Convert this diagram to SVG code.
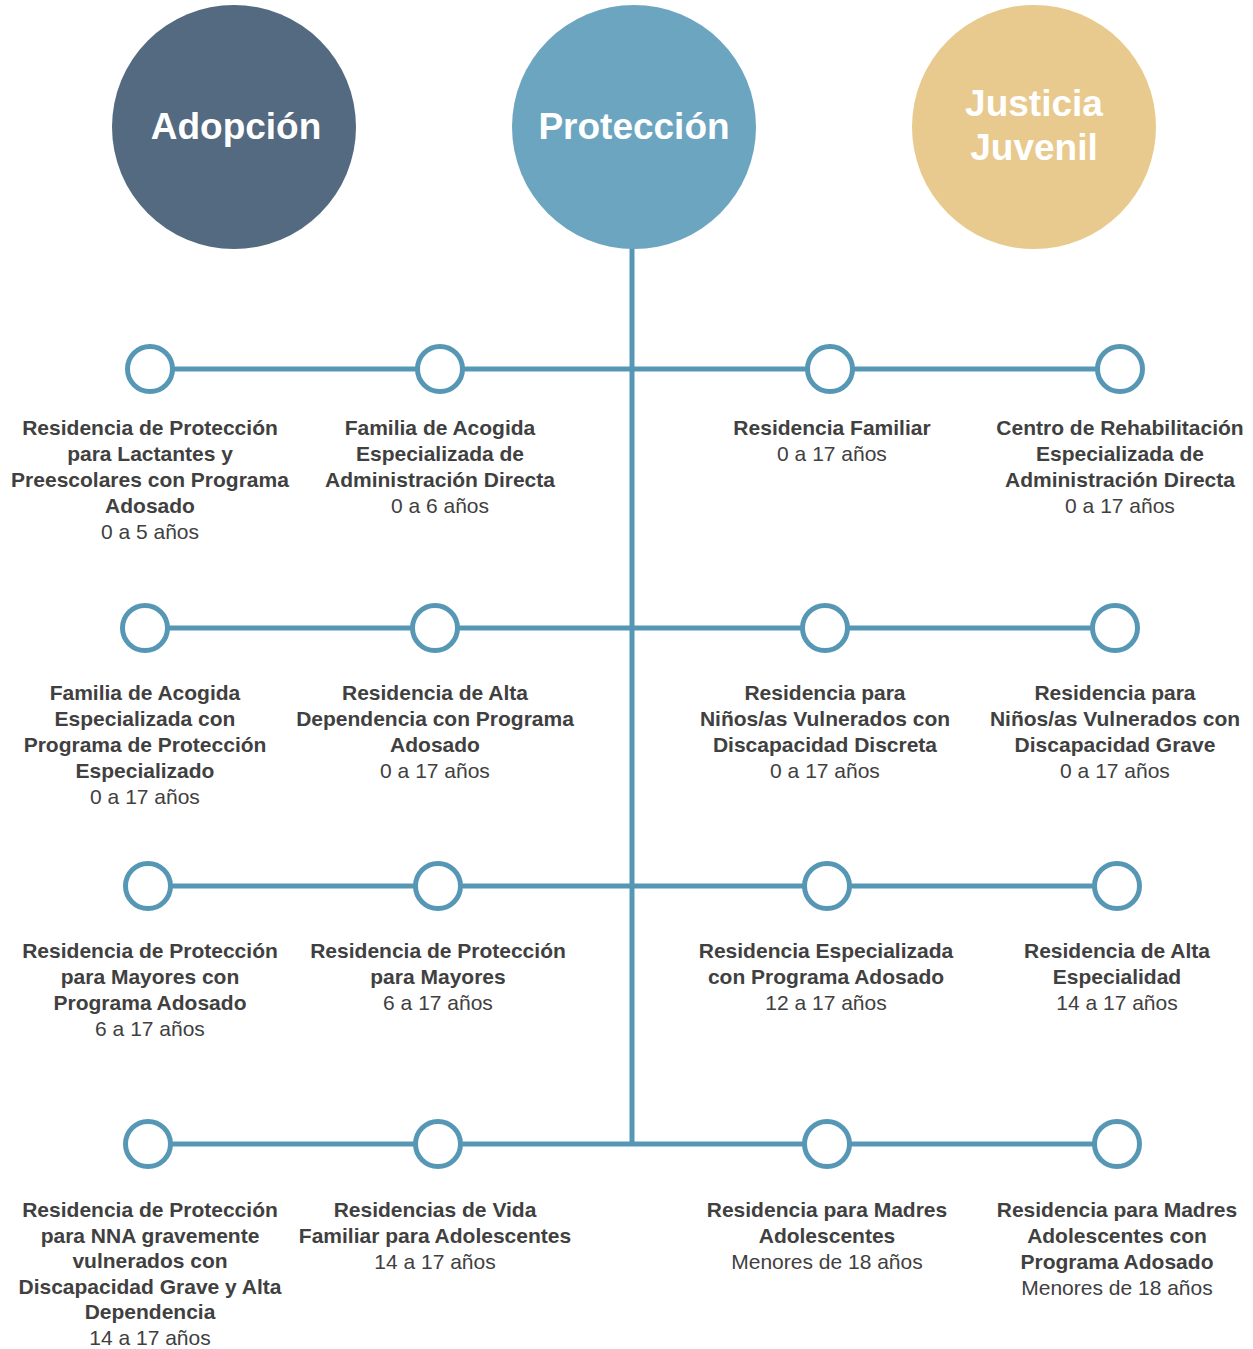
<svg xmlns="http://www.w3.org/2000/svg" width="1253" height="1349" viewBox="0 0 1253 1349">
<style>
.bg{fill:#ffffff}
.line{stroke:#5597b5;stroke-width:5;fill:none}
.node{fill:#ffffff;stroke:#5597b5;stroke-width:5}
.t{font-family:"Liberation Sans",Arial,sans-serif;font-size:21px;fill:#404040;text-anchor:middle}
.b{font-weight:bold}
.h{font-family:"Liberation Sans",Arial,sans-serif;font-size:37px;font-weight:bold;fill:#ffffff;text-anchor:middle}
</style>
<rect class="bg" x="0" y="0" width="1253" height="1349"/>
<g id="connectors">
<line class="line" x1="632" y1="240" x2="632" y2="1144"/>
<line class="line" x1="150" y1="369" x2="1120" y2="369"/>
<line class="line" x1="145" y1="628" x2="1115" y2="628"/>
<line class="line" x1="148" y1="886" x2="1117" y2="886"/>
<line class="line" x1="148" y1="1144" x2="1117" y2="1144"/>
</g>
<g id="adopcion">
<circle cx="234" cy="127" r="122" fill="#546a80"/>
<text class="h" x="236" y="139">Adopción</text>
</g>
<g id="proteccion">
<circle cx="634" cy="127" r="122" fill="#6ca5c0"/>
<text class="h" x="634" y="139">Protección</text>
</g>
<g id="justicia">
<circle cx="1034" cy="127" r="122" fill="#e8ca8e"/>
<text class="h" x="1034" y="116">Justicia</text>
<text class="h" x="1034" y="160">Juvenil</text>
</g>

<g id="n1">
<circle class="node" cx="150" cy="369" r="22.5"/>
<text class="t" x="150" y="435"><tspan class="b" x="150">Residencia de Protección</tspan><tspan class="b" x="150" dy="26">para Lactantes y</tspan><tspan class="b" x="150" dy="26">Preescolares con Programa</tspan><tspan class="b" x="150" dy="26">Adosado</tspan><tspan x="150" dy="26">0 a 5 años</tspan></text>
</g>
<g id="n2">
<circle class="node" cx="440" cy="369" r="22.5"/>
<text class="t" x="440" y="435"><tspan class="b" x="440">Familia de Acogida</tspan><tspan class="b" x="440" dy="26">Especializada de</tspan><tspan class="b" x="440" dy="26">Administración Directa</tspan><tspan x="440" dy="26">0 a 6 años</tspan></text>
</g>
<g id="n3">
<circle class="node" cx="830" cy="369" r="22.5"/>
<text class="t" x="832" y="435"><tspan class="b" x="832">Residencia Familiar</tspan><tspan x="832" dy="26">0 a 17 años</tspan></text>
</g>
<g id="n4">
<circle class="node" cx="1120" cy="369" r="22.5"/>
<text class="t" x="1120" y="435"><tspan class="b" x="1120">Centro de Rehabilitación</tspan><tspan class="b" x="1120" dy="26">Especializada de</tspan><tspan class="b" x="1120" dy="26">Administración Directa</tspan><tspan x="1120" dy="26">0 a 17 años</tspan></text>
</g>

<g id="n5">
<circle class="node" cx="145" cy="628" r="22.5"/>
<text class="t" x="145" y="700"><tspan class="b" x="145">Familia de Acogida</tspan><tspan class="b" x="145" dy="26">Especializada con</tspan><tspan class="b" x="145" dy="26">Programa de Protección</tspan><tspan class="b" x="145" dy="26">Especializado</tspan><tspan x="145" dy="26">0 a 17 años</tspan></text>
</g>
<g id="n6">
<circle class="node" cx="435" cy="628" r="22.5"/>
<text class="t" x="435" y="700"><tspan class="b" x="435">Residencia de Alta</tspan><tspan class="b" x="435" dy="26">Dependencia con Programa</tspan><tspan class="b" x="435" dy="26">Adosado</tspan><tspan x="435" dy="26">0 a 17 años</tspan></text>
</g>
<g id="n7">
<circle class="node" cx="825" cy="628" r="22.5"/>
<text class="t" x="825" y="700"><tspan class="b" x="825">Residencia para</tspan><tspan class="b" x="825" dy="26">Niños/as Vulnerados con</tspan><tspan class="b" x="825" dy="26">Discapacidad Discreta</tspan><tspan x="825" dy="26">0 a 17 años</tspan></text>
</g>
<g id="n8">
<circle class="node" cx="1115" cy="628" r="22.5"/>
<text class="t" x="1115" y="700"><tspan class="b" x="1115">Residencia para</tspan><tspan class="b" x="1115" dy="26">Niños/as Vulnerados con</tspan><tspan class="b" x="1115" dy="26">Discapacidad Grave</tspan><tspan x="1115" dy="26">0 a 17 años</tspan></text>
</g>

<g id="n9">
<circle class="node" cx="148" cy="886" r="22.5"/>
<text class="t" x="150" y="958"><tspan class="b" x="150">Residencia de Protección</tspan><tspan class="b" x="150" dy="26">para Mayores con</tspan><tspan class="b" x="150" dy="26">Programa Adosado</tspan><tspan x="150" dy="26">6 a 17 años</tspan></text>
</g>
<g id="n10">
<circle class="node" cx="438" cy="886" r="22.5"/>
<text class="t" x="438" y="958"><tspan class="b" x="438">Residencia de Protección</tspan><tspan class="b" x="438" dy="26">para Mayores</tspan><tspan x="438" dy="26">6 a 17 años</tspan></text>
</g>
<g id="n11">
<circle class="node" cx="827" cy="886" r="22.5"/>
<text class="t" x="826" y="958"><tspan class="b" x="826">Residencia Especializada</tspan><tspan class="b" x="826" dy="26">con Programa Adosado</tspan><tspan x="826" dy="26">12 a 17 años</tspan></text>
</g>
<g id="n12">
<circle class="node" cx="1117" cy="886" r="22.5"/>
<text class="t" x="1117" y="958"><tspan class="b" x="1117">Residencia de Alta</tspan><tspan class="b" x="1117" dy="26">Especialidad</tspan><tspan x="1117" dy="26">14 a 17 años</tspan></text>
</g>

<g id="n13">
<circle class="node" cx="148" cy="1144" r="22.5"/>
<text class="t" x="150" y="1217"><tspan class="b" x="150">Residencia de Protección</tspan><tspan class="b" x="150" dy="25.5">para NNA gravemente</tspan><tspan class="b" x="150" dy="25.5">vulnerados con</tspan><tspan class="b" x="150" dy="25.5">Discapacidad Grave y Alta</tspan><tspan class="b" x="150" dy="25.5">Dependencia</tspan><tspan x="150" dy="25.5">14 a 17 años</tspan></text>
</g>
<g id="n14">
<circle class="node" cx="438" cy="1144" r="22.5"/>
<text class="t" x="435" y="1217"><tspan class="b" x="435">Residencias de Vida</tspan><tspan class="b" x="435" dy="26">Familiar para Adolescentes</tspan><tspan x="435" dy="26">14 a 17 años</tspan></text>
</g>
<g id="n15">
<circle class="node" cx="827" cy="1144" r="22.5"/>
<text class="t" x="827" y="1217"><tspan class="b" x="827">Residencia para Madres</tspan><tspan class="b" x="827" dy="26">Adolescentes</tspan><tspan x="827" dy="26">Menores de 18 años</tspan></text>
</g>
<g id="n16">
<circle class="node" cx="1117" cy="1144" r="22.5"/>
<text class="t" x="1117" y="1217"><tspan class="b" x="1117">Residencia para Madres</tspan><tspan class="b" x="1117" dy="26">Adolescentes con</tspan><tspan class="b" x="1117" dy="26">Programa Adosado</tspan><tspan x="1117" dy="26">Menores de 18 años</tspan></text>
</g>
</svg>
